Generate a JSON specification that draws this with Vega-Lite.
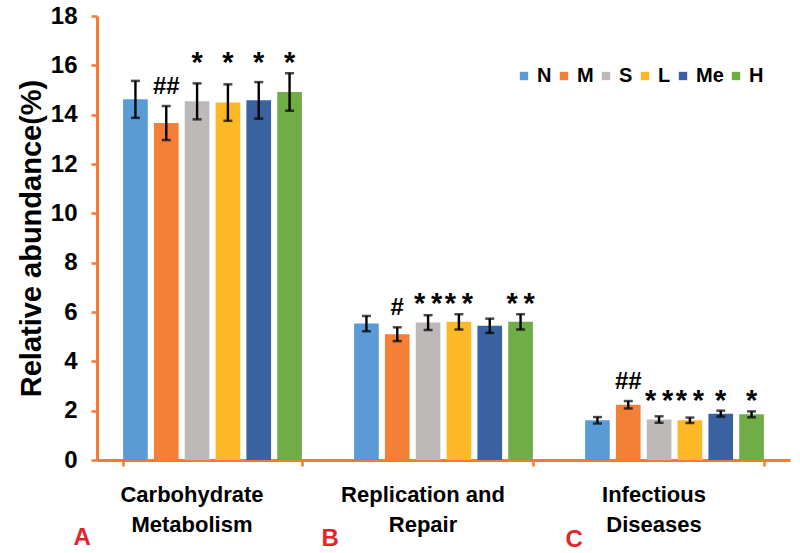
{
  "$schema": "https://vega.github.io/schema/vega-lite/v6.json",
  "width": 693,
  "height": 444,
  "autosize": {"type": "none"},
  "padding": {"left": 97, "top": 16, "right": 10, "bottom": 93},
  "background": "white",
  "config": {"view": {"stroke": null}, "font": "Liberation Sans"},
  "layer": [
    {
      "data": {
        "values": [
          {"category": "Carbohydrate Metabolism", "group": "N", "value": 14.62, "err": 0.75, "sig": ""},
          {"category": "Carbohydrate Metabolism", "group": "M", "value": 13.66, "err": 0.69, "sig": "##"},
          {"category": "Carbohydrate Metabolism", "group": "S", "value": 14.54, "err": 0.73, "sig": "*"},
          {"category": "Carbohydrate Metabolism", "group": "L", "value": 14.49, "err": 0.74, "sig": "*"},
          {"category": "Carbohydrate Metabolism", "group": "Me", "value": 14.58, "err": 0.74, "sig": "*"},
          {"category": "Carbohydrate Metabolism", "group": "H", "value": 14.92, "err": 0.76, "sig": "*"},
          {"category": "Replication and Repair", "group": "N", "value": 5.53, "err": 0.31, "sig": ""},
          {"category": "Replication and Repair", "group": "M", "value": 5.1, "err": 0.28, "sig": "#"},
          {"category": "Replication and Repair", "group": "S", "value": 5.57, "err": 0.3, "sig": "**"},
          {"category": "Replication and Repair", "group": "L", "value": 5.6, "err": 0.31, "sig": "**"},
          {"category": "Replication and Repair", "group": "Me", "value": 5.44, "err": 0.29, "sig": ""},
          {"category": "Replication and Repair", "group": "H", "value": 5.6, "err": 0.31, "sig": "**"},
          {"category": "Infectious Diseases", "group": "N", "value": 1.61, "err": 0.13, "sig": ""},
          {"category": "Infectious Diseases", "group": "M", "value": 2.24, "err": 0.15, "sig": "##"},
          {"category": "Infectious Diseases", "group": "S", "value": 1.64, "err": 0.13, "sig": "**"},
          {"category": "Infectious Diseases", "group": "L", "value": 1.61, "err": 0.11, "sig": "**"},
          {"category": "Infectious Diseases", "group": "Me", "value": 1.88, "err": 0.12, "sig": "*"},
          {"category": "Infectious Diseases", "group": "H", "value": 1.85, "err": 0.12, "sig": "*"}
        ]
      },
      "transform": [
        {"calculate": "datum.value + datum.err", "as": "upper"},
        {"calculate": "datum.value - datum.err", "as": "lower"},
        {"calculate": "datum.group == 'M' ? -1 : datum.upper", "as": "upNonM"},
        {"joinaggregate": [{"op": "max", "field": "upNonM", "as": "maxUp"}], "groupby": ["category"]},
        {"calculate": "datum.group == 'M' ? datum.upper : datum.maxUp", "as": "labelY"},
        {"calculate": "datum.sig == '**' ? '*\u2009*' : datum.sig", "as": "sigText"}
      ],
      "encoding": {
        "x": {
          "field": "category",
          "type": "nominal",
          "sort": null,
          "scale": {"domain": ["Carbohydrate Metabolism", "Replication and Repair", "Infectious Diseases"], "paddingInner": 0.226, "paddingOuter": 0.113},
          "axis": {
            "title": null,
            "labelAngle": 0,
            "tickBand": "extent",
            "domainColor": "#F47B30",
            "domainWidth": 3,
            "tickColor": "#F47B30",
            "tickWidth": 2.5,
            "tickSize": 6,
            "labelFontSize": 22,
            "labelFontWeight": "bold",
            "labelColor": "black",
            "labelPadding": 18,
            "labelLineHeight": 30,
            "labelOffset": -21,
            "labelLimit": 400,
            "labelOverlap": false,
            "labelExpr": "datum.label == 'Replication and Repair' ? ['Replication and', 'Repair'] : split(datum.label, ' ')"
          }
        },
        "xOffset": {
          "field": "group",
          "type": "nominal",
          "sort": ["N", "M", "S", "L", "Me", "H"],
          "scale": {"paddingInner": 0.2, "paddingOuter": 0}
        }
      },
      "layer": [
        {
          "mark": {"type": "bar"},
          "encoding": {
            "y": {
              "field": "value",
              "type": "quantitative",
              "scale": {"domain": [0, 18], "nice": false},
              "axis": {
                "values": [0, 2, 4, 6, 8, 10, 12, 14, 16, 18],
                "grid": false,
                "title": "Relative abundance(%)",
                "titleFontSize": 29,
                "titleFontWeight": "bold",
                "titleColor": "black",
                "titlePadding": 4,
                "labelFontSize": 24,
                "labelFontWeight": "bold",
                "labelColor": "black",
                "labelPadding": 14,
                "domainColor": "#F47B30",
                "domainWidth": 3,
                "tickColor": "#F47B30",
                "tickWidth": 2.5,
                "tickSize": 6
              }
            },
            "color": {
              "field": "group",
              "type": "nominal",
              "sort": ["N", "M", "S", "L", "Me", "H"],
              "scale": {
                "domain": ["N", "M", "S", "L", "Me", "H"],
                "range": ["#5B9BD5", "#F47F37", "#BDB9B8", "#FDB825", "#3A62A0", "#70AD47"]
              },
              "legend": {
                "title": null,
                "orient": "none",
                "legendX": 417,
                "legendY": 50,
                "direction": "horizontal",
                "symbolType": "square",
                "symbolSize": 70,
                "symbolStrokeWidth": 0,
                "labelFontSize": 20,
                "labelFontWeight": "bold",
                "labelColor": "black",
                "labelOffset": 3,
                "columnPadding": 2,
                "gridAlign": "none"
              }
            }
          }
        },
        {
          "mark": {"type": "rule", "color": "black", "strokeWidth": 2.4},
          "encoding": {
            "y": {"field": "lower", "type": "quantitative"},
            "y2": {"field": "upper"}
          }
        },
        {
          "mark": {"type": "tick", "orient": "horizontal", "color": "black", "size": 9, "thickness": 2.5},
          "encoding": {"y": {"field": "upper", "type": "quantitative"}}
        },
        {
          "mark": {"type": "tick", "orient": "horizontal", "color": "black", "size": 9, "thickness": 2.5},
          "encoding": {"y": {"field": "lower", "type": "quantitative"}}
        },
        {
          "transform": [{"filter": "datum.group == 'M'"}],
          "mark": {"type": "text", "fontSize": 24, "fontWeight": "bold", "color": "black", "baseline": "alphabetic", "align": "center", "dy": -12},
          "encoding": {
            "y": {"field": "labelY", "type": "quantitative"},
            "text": {"field": "sigText"}
          }
        },
        {
          "transform": [{"filter": "datum.group != 'M' && datum.sig != ''"}],
          "mark": {"type": "text", "fontSize": 29, "fontWeight": "bold", "color": "black", "baseline": "alphabetic", "align": "center", "dy": -1},
          "encoding": {
            "y": {"field": "labelY", "type": "quantitative"},
            "text": {"field": "sigText"}
          }
        }
      ]
    },
    {
      "data": {"values": [{"category": "Carbohydrate Metabolism", "letter": "A"}]},
      "mark": {"type": "text", "fontSize": 24, "fontWeight": "bold", "color": "#E3242B", "align": "center", "baseline": "middle", "dx": -41, "dy": 78},
      "encoding": {
        "x": {"field": "category", "type": "nominal", "bandPosition": 0, "sort": null},
        "y": {"datum": 0, "type": "quantitative"},
        "text": {"field": "letter"}
      }
    },
    {
      "data": {"values": [{"category": "Replication and Repair", "letter": "B"}]},
      "mark": {"type": "text", "fontSize": 24, "fontWeight": "bold", "color": "#E3242B", "align": "center", "baseline": "middle", "dx": -24, "dy": 79},
      "encoding": {
        "x": {"field": "category", "type": "nominal", "bandPosition": 0, "sort": null},
        "y": {"datum": 0, "type": "quantitative"},
        "text": {"field": "letter"}
      }
    },
    {
      "data": {"values": [{"category": "Infectious Diseases", "letter": "C"}]},
      "mark": {"type": "text", "fontSize": 24, "fontWeight": "bold", "color": "#E3242B", "align": "center", "baseline": "middle", "dx": -11, "dy": 80},
      "encoding": {
        "x": {"field": "category", "type": "nominal", "bandPosition": 0, "sort": null},
        "y": {"datum": 0, "type": "quantitative"},
        "text": {"field": "letter"}
      }
    }
  ]
}
